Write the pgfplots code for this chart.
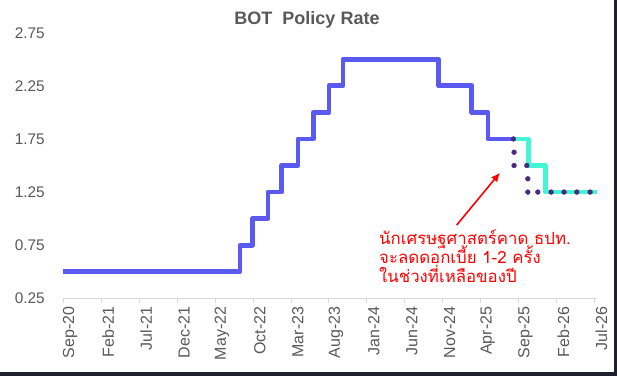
\documentclass[border=0pt]{standalone}
\usepackage{pgfplots}
\pgfplotsset{compat=1.18}
\usetikzlibrary{arrows.meta}
\usepackage{fontspec}
\setmainfont{Liberation Sans}
\newfontfamily\thaifont[Script=Thai]{Loma}
\definecolor{bluel}{HTML}{5A5AF0}
\definecolor{cyanl}{HTML}{44F5D6}
\definecolor{dotc}{HTML}{4B2882}
\definecolor{labelgray}{HTML}{595959}
\definecolor{axisgray}{HTML}{D9D9D9}
\definecolor{darkc}{HTML}{1F1F2E}
\begin{document}
\begin{tikzpicture}
\fill[white] (0,0) rectangle (617pt,376pt);
\useasboundingbox (0,0) rectangle (617pt,376pt);
\fill[darkc] (613.5pt,0) rectangle (617pt,376pt);
\fill[darkc] (0,0) rectangle (617pt,4.3pt);
\begin{axis}[
  at={(63.3pt,77.7pt)}, anchor=south west,
  width=533.4pt, height=265.6pt, scale only axis,
  xmin=0, xmax=70.3, ymin=0.25, ymax=2.75,
  clip=false,
  axis lines*=left,
  x axis line style={draw=axisgray, line width=1pt, -},
  y axis line style={draw=none},
  ytick style={draw=none},
  xtick style={draw=axisgray, line width=0.8pt},
  tick align=outside, major tick length=5pt,
  xtick={0,5,...,70},
  xticklabels={Sep-20,Feb-21,Jul-21,Dec-21,May-22,Oct-22,Mar-23,Aug-23,Jan-24,Jun-24,Nov-24,Apr-25,Sep-25,Feb-26,Jul-26},
  ytick={0.25,0.75,1.25,1.75,2.25,2.75},
  yticklabels={0.25,0.75,1.25,1.75,2.25,2.75},
  x tick label style={rotate=90, anchor=east, text=labelgray, font=\fontsize{16}{18}\selectfont, yshift=-7pt},
  y tick label style={anchor=east, text=labelgray, font=\fontsize{15.4}{17}\selectfont, xshift=-10pt},
]
\addplot[const plot, cyanl, line width=4.8pt, line join=round] coordinates {
(59.1,1.75) (61.3,1.50) (63.6,1.25) (70.4,1.25)};
\addplot[const plot, bluel, line width=4.8pt, line join=round] coordinates {
(0,0.50) (23.3,0.75) (24.9,1.00) (26.97,1.25) (28.8,1.50) (30.93,1.75)
(32.97,2.00) (35.03,2.25) (36.87,2.50) (49.5,2.25) (53.85,2.00) (55.97,1.75) (59.3,1.75)};
\addplot[only marks, mark=*, mark size=2.4pt, mark options={draw=dotc, fill=dotc}] coordinates {
(59.32,1.75) (59.41,1.625) (59.41,1.50) (61.09,1.50) (61.22,1.375) (61.22,1.25)
(62.54,1.25) (64.29,1.25) (66.0,1.25) (67.68,1.25) (69.43,1.25)};
\end{axis}
\node[text=labelgray, font=\fontsize{18}{20}\selectfont\bfseries] at (307pt,356pt) {BOT\ \ Policy Rate};
\draw[red, line width=1.6pt, -{Latex[length=9pt,width=8pt]}] (456.7pt,151pt) -- (500pt,203.3pt);
\node[text=red, font=\thaifont\fontsize{16.8}{19}\selectfont, anchor=base west, inner sep=0pt] at (379pt,131.5pt) {นักเศรษฐศาสตร์คาด ธปท.};
\node[text=red, font=\thaifont\fontsize{16.8}{19}\selectfont, anchor=base west, inner sep=0pt] at (379pt,112.5pt) {จะลดดอกเบี้ย 1-2 ครั้ง};
\node[text=red, font=\thaifont\fontsize{16.8}{19}\selectfont, anchor=base west, inner sep=0pt] at (379pt,93.5pt) {ในช่วงที่เหลือของปี};
\end{tikzpicture}
\end{document}
